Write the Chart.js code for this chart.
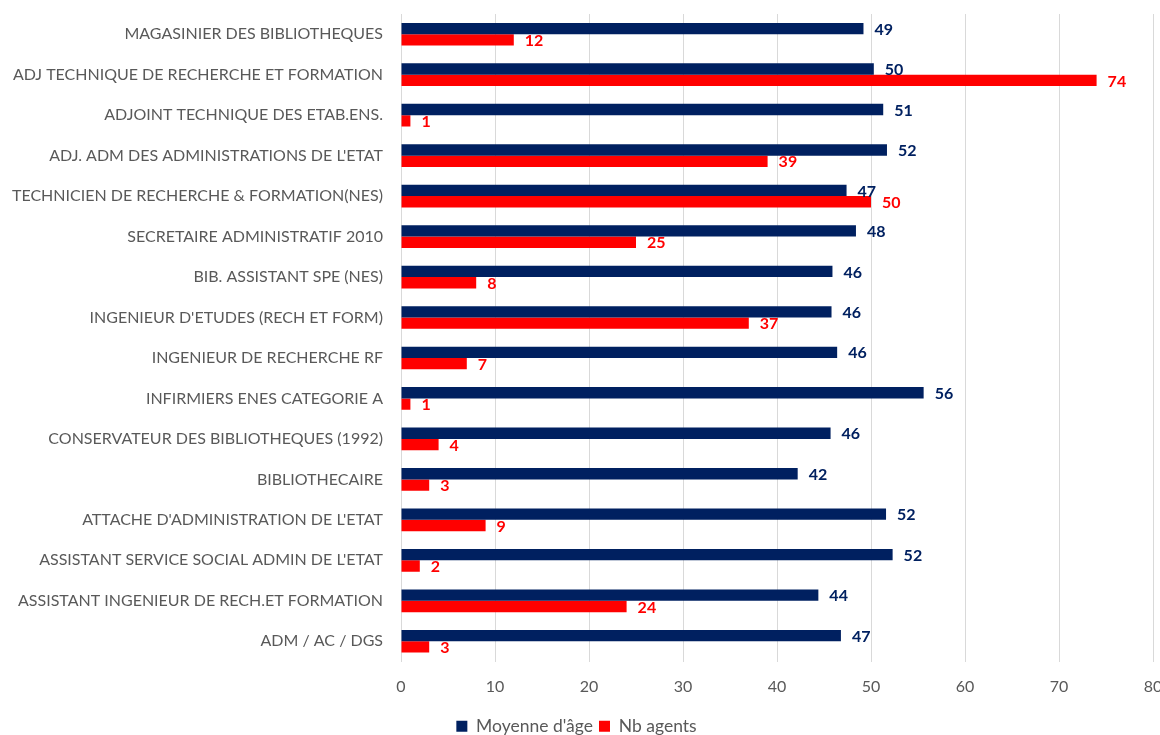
<!DOCTYPE html>
<html>
<head>
<meta charset="utf-8">
<script src="https://cdn.jsdelivr.net/npm/chart.js@4/dist/chart.umd.min.js"></script>
<style>
  html, body { margin: 0; padding: 0; background: #ffffff; }
  #wrap { width: 1160px; height: 735px; position: relative; }
</style>
</head>
<body>
<div id="wrap"><canvas id="c" width="1160" height="735"></canvas></div>
<script>
const categories = [
  "MAGASINIER DES BIBLIOTHEQUES",
  "ADJ TECHNIQUE DE RECHERCHE ET FORMATION",
  "ADJOINT TECHNIQUE DES ETAB.ENS.",
  "ADJ. ADM DES ADMINISTRATIONS DE L'ETAT",
  "TECHNICIEN DE RECHERCHE & FORMATION(NES)",
  "SECRETAIRE ADMINISTRATIF 2010",
  "BIB. ASSISTANT SPE (NES)",
  "INGENIEUR D'ETUDES (RECH ET FORM)",
  "INGENIEUR DE RECHERCHE RF",
  "INFIRMIERS ENES CATEGORIE A",
  "CONSERVATEUR DES BIBLIOTHEQUES (1992)",
  "BIBLIOTHECAIRE",
  "ATTACHE D'ADMINISTRATION DE L'ETAT",
  "ASSISTANT SERVICE SOCIAL ADMIN DE L'ETAT",
  "ASSISTANT INGENIEUR DE RECH.ET FORMATION",
  "ADM / AC / DGS"
];
const moyenneAge = [49.2, 50.3, 51.3, 51.7, 47.4, 48.4, 45.9, 45.8, 46.4, 55.6, 45.7, 42.2, 51.6, 52.3, 44.4, 46.8];
const nbAgents = [12, 74, 1, 39, 50, 25, 8, 37, 7, 1, 4, 3, 9, 2, 24, 3];
const seriesNames = ["Moyenne d'âge", "Nb agents"];
const xTicks = [0, 10, 20, 30, 40, 50, 60, 70, 80];

const NAVY = "#002060";
const RED = "#FF0000";
const TXT = "#595959";
const FONT = "Lato, 'Open Sans', sans-serif";

const valueLabels = {
  id: "valueLabels",
  afterDatasetsDraw(chart) {
    const ctx = chart.ctx;
    ctx.save();
    ctx.font = "bold 16px " + FONT;
    ctx.textAlign = "left";
    ctx.textBaseline = "middle";
    chart.data.datasets.forEach((ds, i) => {
      const meta = chart.getDatasetMeta(i);
      ctx.fillStyle = ds.backgroundColor;
      meta.data.forEach((bar, j) => {
        ctx.fillText(String(Math.round(ds.data[j])), bar.x + 11, bar.y + 1);
      });
    });
    ctx.restore();
  }
};

new Chart(document.getElementById("c"), {
  type: "bar",
  data: {
    labels: categories,
    datasets: [
      { label: seriesNames[0], data: moyenneAge, backgroundColor: NAVY, categoryPercentage: 0.56, barPercentage: 1.0 },
      { label: seriesNames[1], data: nbAgents, backgroundColor: RED, categoryPercentage: 0.56, barPercentage: 1.0 }
    ]
  },
  options: {
    indexAxis: "y",
    responsive: false,
    animation: false,
    devicePixelRatio: 1,
    layout: { padding: { top: 14, left: 0, right: 7, bottom: -10 } },
    plugins: {
      legend: {
        position: "bottom",
        labels: {
          boxWidth: 11, boxHeight: 11, padding: 6,
          color: TXT,
          font: { family: FONT, size: 17.5 }
        }
      },
      tooltip: { enabled: false }
    },
    scales: {
      x: {
        min: 0, max: 80,
        afterBuildTicks(scale) { scale.ticks = xTicks.map(v => ({ value: v })); },
        grid: { color: "#d9d9d9", drawTicks: false, lineWidth: 1 },
        border: { display: false },
        ticks: { color: TXT, font: { family: FONT, size: 16 }, padding: 16 },
        afterFit(scale) { scale.paddingLeft = 0; scale.paddingRight = 0; scale.height = 50; }
      },
      y: {
        grid: { display: false, drawTicks: false },
        border: { display: false },
        ticks: { color: TXT, font: { family: FONT, size: 16 }, padding: 18, autoSkip: false },
        afterFit(scale) { scale.width = 401; scale.paddingTop = 0; scale.paddingBottom = 0; }
      }
    }
  },
  plugins: [valueLabels]
});
</script>
</body>
</html>
